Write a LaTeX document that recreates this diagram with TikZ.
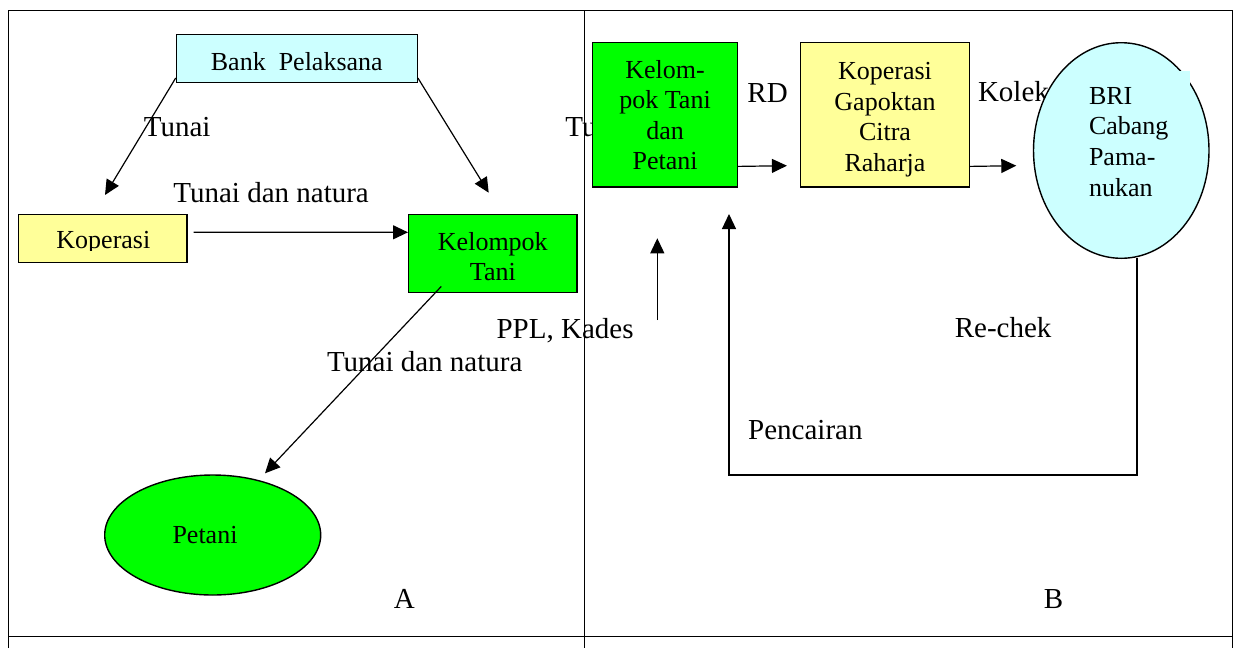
\documentclass[tikz,border=0pt]{standalone}
\usepackage{fontspec}
\setmainfont{Liberation Serif}
\usetikzlibrary{arrows.meta,calc,shapes.geometric}
\definecolor{lcyan}{HTML}{CCFFFF}
\definecolor{lyellow}{HTML}{FFFF99}
\definecolor{lgreen}{HTML}{00FF00}
\newcommand\nfont{\fontsize{13}{15.25}\selectfont}
\newcommand\brifont{\fontsize{13}{15.35}\selectfont}
\newcommand\lfont{\fontsize{14.5}{17}\selectfont}
\begin{document}
\begin{tikzpicture}[x=0.5pt,y=-0.5pt,
  box/.style={draw=black,line width=0.7pt,inner sep=0pt,font=\nfont,align=center},
  ell/.style={draw=black,line width=0.7pt,inner sep=0pt,ellipse},
  lbl/.style={anchor=base west,inner sep=0pt,font=\lfont},
  txt/.style={inner sep=0pt,font=\nfont},
  arr/.style={line width=0.6pt,-{Triangle[length=7.5pt,width=7pt]}},
  tbl/.style={line width=0.7pt}]
\useasboundingbox (0,0) rectangle (1235,648);
% table
\draw[tbl] (8.3,648) -- (8.3,10.5) -- (1232.7,10.5) -- (1232.7,648);
\draw[tbl] (8.3,636.7) -- (1232.7,636.7);
\draw[tbl] (584.5,10.5) -- (584.5,648);
% partly hidden labels
\node[lbl] (l5) at (565,136) {Tu};
\node[lbl] (l7) at (977.6,101.7) {Kolek};
% panel A
\node[box,fill=lcyan,minimum width=120.4pt,minimum height=24pt,text height=11.7pt,text depth=0pt] (bank) at (296.8,58.3) {Bank\ \ Pelaksana};
\node[box,fill=lyellow,minimum width=84.2pt,minimum height=24.2pt] (kop) at (102.6,238.5) {};
\begin{scope}
\clip (18.4,214.3) rectangle (186.8,250);
\node[txt,anchor=base] (koptxt) at (103.4,248) {Koperasi};
\end{scope}
\node[box,fill=lgreen,minimum width=84.15pt,minimum height=39pt] (kt) at (492.85,253.3) {\rule{0pt}{12.2pt}Kelompok\\Tani};
\node[ell,fill=lgreen,minimum width=108pt,minimum height=60pt] (pet) at (212.7,535) {};
\node[txt,anchor=base] (pettxt) at (205,543.3) {Petani};
% panel B
\node[box,fill=lgreen,minimum width=72.35pt,minimum height=72.15pt] (ktp) at (665.05,114.85) {\rule{0pt}{9.4pt}Kelom-\\pok Tani\\dan\\Petani};
\node[box,fill=lyellow,minimum width=84.4pt,minimum height=72.15pt] (kgc) at (885,114.85) {\rule{0pt}{13.4pt}Koperasi\\Gapoktan\\Citra\\Raharja};
\node[ell,fill=lcyan,minimum width=87.75pt,minimum height=107.8pt] (bri) at (1121.25,150.5) {};
\fill[lcyan] (1172,71) rectangle (1190,86);
\node[inner sep=0pt,font=\brifont,align=left,anchor=north west] (britxt) at (1088.6,86.8) {BRI\\Cabang\\Pama-\\nukan};
% labels
\node[lbl] (l1) at (143.5,136) {Tunai};
\node[lbl] (l2) at (173,202.7) {Tunai dan natura};
\node[lbl] (l3) at (326.6,371.7) {Tunai dan natura};
\node[lbl] (l4) at (496.2,338.3) {PPL, Kades};
\node[lbl] (l6) at (747,102.3) {RD};
\node[lbl] (l8) at (954.4,337.3) {Re-chek};
\node[lbl] (l9) at (747.8,439.3) {Pencairan};
\node[lbl] (la) at (393.4,608.3) {A};
\node[lbl] (lb) at (1043.5,608.3) {B};
% free ends
\coordinate (t1) at (105,195);
\coordinate (t2) at (488.7,192.7);
\coordinate (t3) at (265,473.3);
\coordinate (t4) at (786.9,165.7);
\coordinate (t5) at (1016.3,165.7);
\coordinate (s6) at (657.3,320);
\coordinate (t6) at (657.3,238.3);
\coordinate (c8) at (729,475);
\coordinate (t8) at (729,214);
% connectors
\draw[arr] ($(bank.south west)+(0,-5)$) -- (t1);
\draw[arr] ($(bank.south east)+(0,-5)$) -- (t2);
\draw[arr] ($(kop.east)+(6,-6.2)$) -- ($(kt.west)+(0,-21)$);
\draw[arr] ($(kt.south west)+(33.3,-6.6)$) -- (t3);
\draw[arr] ($(ktp.south east)+(0,-21.3)$) -- (t4);
\draw[arr] ($(kgc.south east)+(0,-21.3)$) -- (t5);
\draw[arr] (s6) -- (t6);
\draw[arr] ($(bri.south)+(15.75,-1.5)$) |- (c8) -- (t8);
\end{tikzpicture}
\end{document}
